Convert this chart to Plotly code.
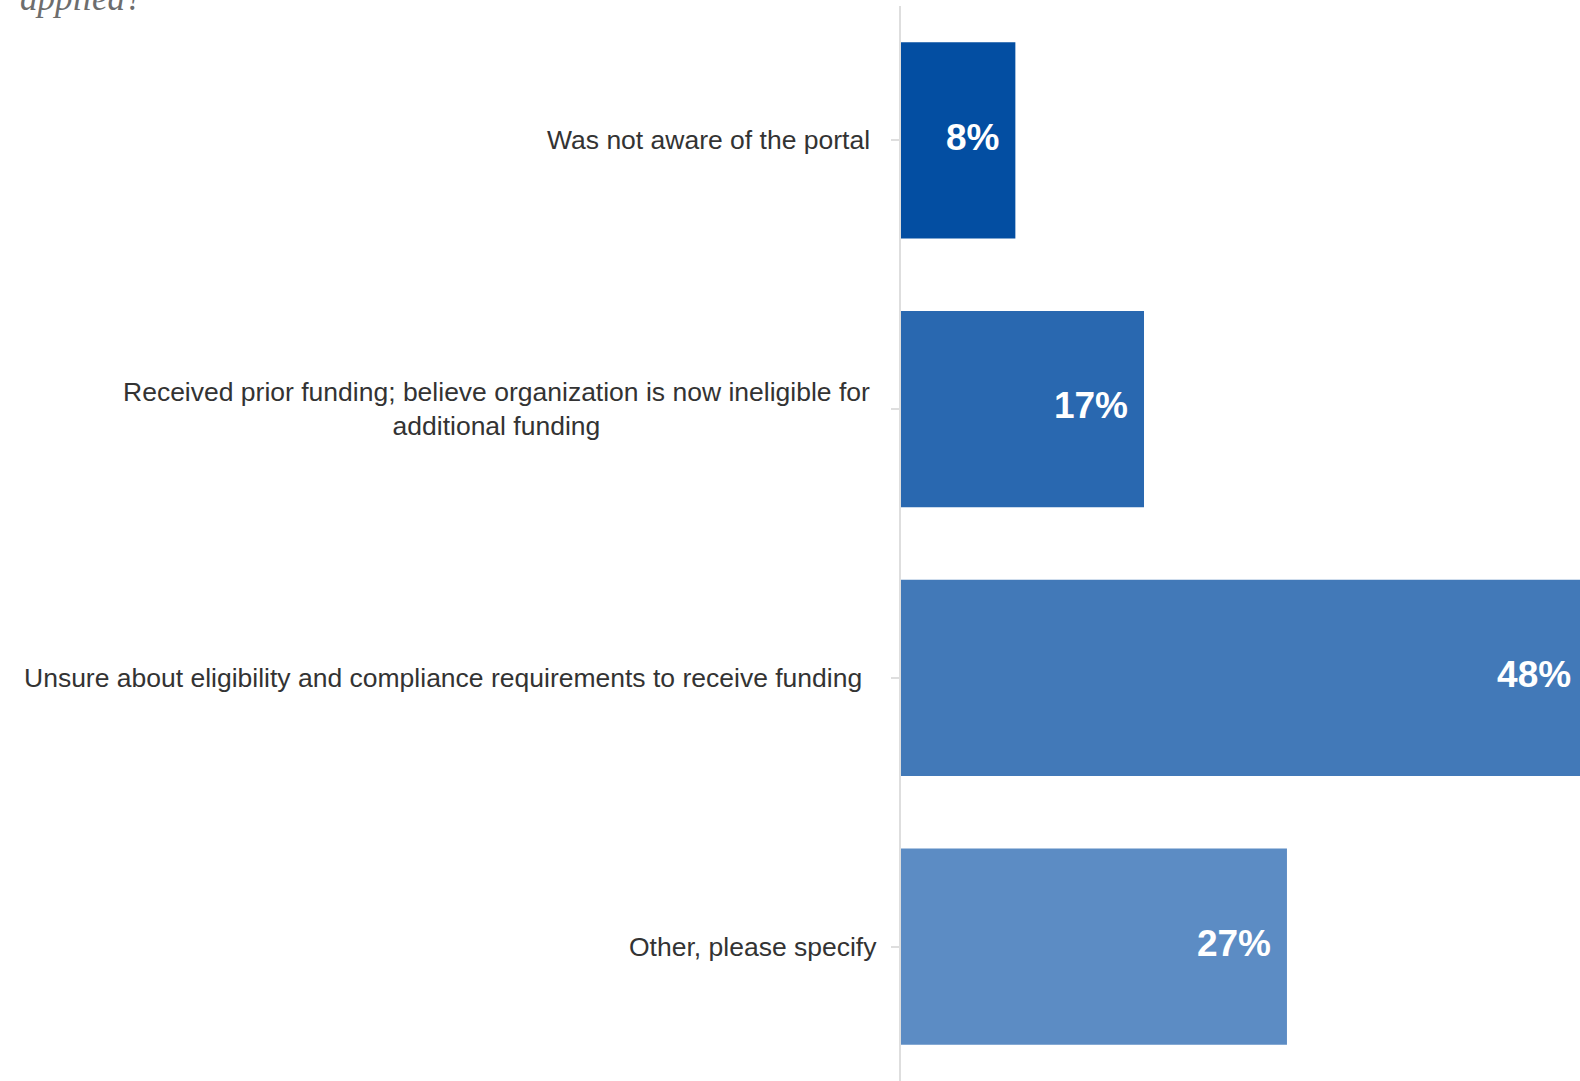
import plotly.graph_objects as go

categories = [
    "Was not aware of the portal",
    "Received prior funding; believe organization is now ineligible for<br>additional funding",
    "Unsure about eligibility and compliance requirements to receive funding",
    "Other, please specify",
]
values = [8, 17, 48, 27]
value_labels = [f"{v}%" for v in values]
bar_colors = ["#034EA2", "#2968B0", "#4279B8", "#5C8CC4"]
title_tail = "applied?"
label_shifts = [-29, -29, -37, -22]  # style: horizontal gap of each label from the axis

cat_ids = list(range(len(categories)))

fig = go.Figure()
fig.add_trace(go.Bar(
    x=values,
    y=cat_ids,
    orientation="h",
    marker=dict(color=bar_colors, line=dict(width=0)),
    hoverinfo="skip",
    showlegend=False,
))
# value labels placed just inside the bar ends
fig.add_trace(go.Scatter(
    x=values,
    y=cat_ids,
    mode="markers+text",
    text=value_labels,
    textposition="middle left",
    textfont=dict(family="Liberation Sans, Arial, sans-serif", size=37, color="white", weight="bold"),
    marker=dict(size=24, opacity=0),
    cliponaxis=True,
    hoverinfo="skip",
    showlegend=False,
))

# category labels (centered multi-line) as annotations next to the axis
for i, c in enumerate(categories):
    fig.add_annotation(
        xref="paper", x=0, yref="y", y=i,
        text=c, showarrow=False, xanchor="right", yanchor="middle",
        align="center", xshift=label_shifts[i],
        font=dict(family="Liberation Sans, Arial, sans-serif", size=26.5, color="#333333"),
    )

fig.add_annotation(
    xref="paper", x=-901 / 679, yref="paper", y=1, yanchor="bottom", xanchor="left",
    text=title_tail, showarrow=False, xshift=18, yshift=-14,
    font=dict(family="Georgia, Liberation Serif, serif", size=35, color="#6d6d6d", style="italic"),
)

fig.update_layout(
    width=1580, height=1081,
    margin=dict(l=901, r=0, t=6, b=0),
    paper_bgcolor="white", plot_bgcolor="white",
    bargap=0.27,
    xaxis=dict(range=[0, 47.5], visible=False, fixedrange=True),
    yaxis=dict(
        range=[3.5, -0.5], tickmode="array", tickvals=cat_ids, ticktext=[""] * len(cat_ids),
        showticklabels=False, tickson="boundaries", ticks="outside", ticklen=8,
        tickwidth=2, tickcolor="#dedede", showline=True, linecolor="#dedede", linewidth=2,
        showgrid=False, zeroline=False, fixedrange=True,
    ),
)

fig.write_html(
    "out.html",
    config={"displayModeBar": False},
    post_script="document.body.style.margin='0';document.body.style.overflow='hidden';",
)
